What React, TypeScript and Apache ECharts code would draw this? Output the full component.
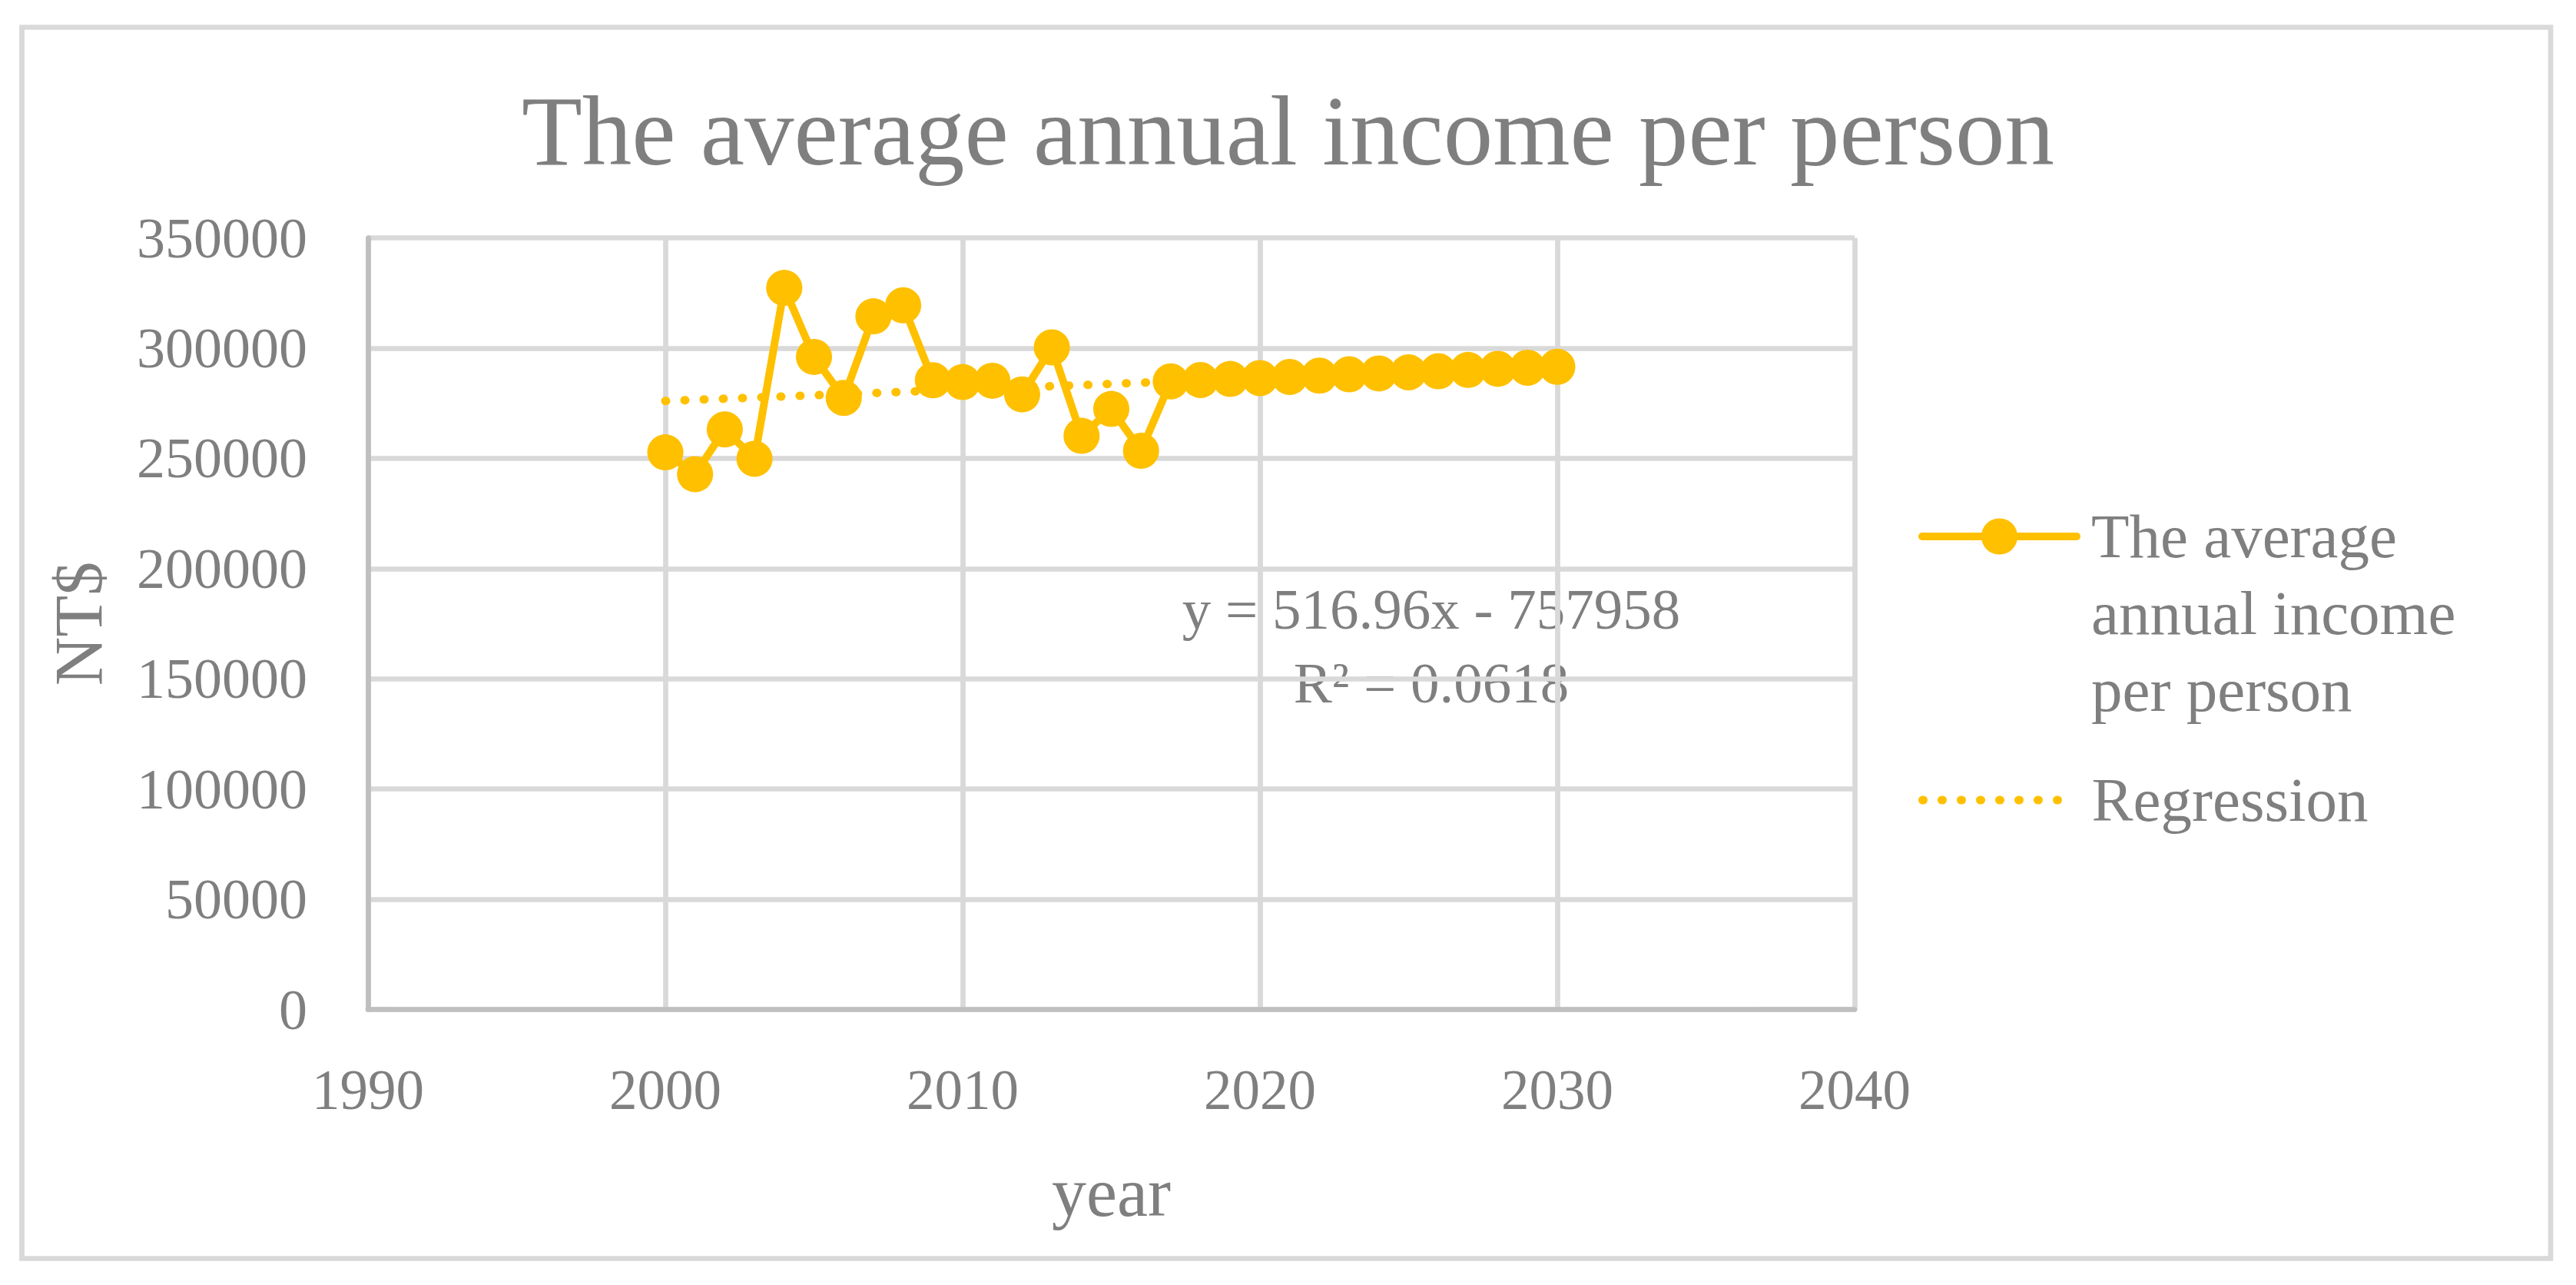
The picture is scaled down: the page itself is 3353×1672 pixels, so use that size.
import React, { useEffect, useRef } from "react";
import * as echarts from "echarts";

const TITLE = "The average annual income per person";
const SERIES_NAME = "The average annual income per person";
const LEGEND_MAIN_LINES = ["The average", "annual income", "per person"];
const REG_NAME = "Regression";
const X_NAME = "year";
const Y_NAME = "NT$";
const EQUATION = "y = 516.96x - 757958";
const R_SQUARED = "R² = 0.0618";

const years = [
  2000, 2001, 2002, 2003, 2004, 2005, 2006, 2007, 2008, 2009, 2010,
  2011, 2012, 2013, 2014, 2015, 2016, 2017, 2018, 2019, 2020, 2021,
  2022, 2023, 2024, 2025, 2026, 2027, 2028, 2029, 2030,
];
const income = [
  252700, 242800, 263100, 249800, 327300, 296000, 277400, 314400, 319400, 285400, 284600,
  285200, 279000, 300300, 260200, 272400, 253400, 284900, 285500, 286000, 286400, 286900,
  287500, 288100, 288500, 289000, 289500, 290100, 290600, 291100, 291500,
];
const regressionYears = [2000, 2030];
const regressionValues = [276000, 291500];

const xTicks = { min: 1990, max: 2040, interval: 10 };
const yTicks = { min: 0, max: 350000, interval: 50000 };

const YELLOW = "#FFC000";
const TEXT = "#7F7F7F";
const GRID = "#D9D9D9";
const AXIS = "#BFBFBF";
const FONT = "'Liberation Serif', 'Times New Roman', serif";

export default function App() {
  const ref = useRef<HTMLDivElement>(null);
  useEffect(() => {
    if (!ref.current) return;
    const chart = echarts.init(ref.current, undefined, { renderer: "svg" });
    const mainData = years.map((y, i) => [y, income[i]]);
    const regData = regressionYears.map((y, i) => [y, regressionValues[i]]);
    // two leading empty lines keep the first text line level with the legend icon
    const legendMainText = ["", ""].concat(LEGEND_MAIN_LINES).join("\n");
    chart.setOption({
      animation: false,
      backgroundColor: "#ffffff",
      title: {
        text: TITLE,
        left: "center",
        top: 106,
        padding: 0,
        textStyle: { fontFamily: FONT, fontSize: 129, fontWeight: "normal", color: TEXT },
      },
      grid: { left: 479, right: 939, top: 309.5, bottom: 358.5, containLabel: false },
      xAxis: {
        type: "value",
        min: xTicks.min,
        max: xTicks.max,
        interval: xTicks.interval,
        name: X_NAME,
        nameLocation: "middle",
        nameGap: 193,
        nameTextStyle: { fontFamily: FONT, fontSize: 90, color: TEXT },
        axisLine: { show: true, lineStyle: { color: AXIS, width: 6.7 } },
        axisTick: { show: false },
        axisLabel: { margin: 68, fontFamily: FONT, fontSize: 73, color: TEXT, formatter: (v: number) => String(v) },
        splitLine: { show: true, lineStyle: { color: GRID, width: 6.7 } },
      },
      yAxis: {
        type: "value",
        min: yTicks.min,
        max: yTicks.max,
        interval: yTicks.interval,
        name: Y_NAME,
        nameLocation: "middle",
        nameGap: 333,
        nameTextStyle: { fontFamily: FONT, fontSize: 88, color: TEXT },
        axisLine: { show: true, lineStyle: { color: AXIS, width: 6.7 } },
        axisTick: { show: false },
        axisLabel: { margin: 79, fontFamily: FONT, fontSize: 74, color: TEXT, formatter: (v: number) => String(v) },
        splitLine: { show: true, lineStyle: { color: GRID, width: 6.7 } },
      },
      legend: [
        {
          data: [SERIES_NAME],
          left: 2497,
          top: 448,
          padding: 0,
          orient: "vertical",
          selectedMode: false,
          itemWidth: 201,
          itemHeight: 59,
          formatter: () => legendMainText,
          lineStyle: { width: 10, color: YELLOW, type: "solid", cap: "round" },
          itemStyle: { color: YELLOW, borderWidth: 0 },
          textStyle: {
            fontFamily: FONT,
            fontSize: 81,
            color: TEXT,
            lineHeight: 100,
            padding: [0, 0, 0, 14],
          },
        },
        {
          data: [REG_NAME],
          left: 2497,
          top: 991,
          padding: 0,
          orient: "vertical",
          selectedMode: false,
          itemWidth: 199,
          itemHeight: 59,
          lineStyle: { width: 11, color: YELLOW, type: [1, 24], cap: "round" },
          itemStyle: { color: "rgba(0,0,0,0)", borderWidth: 0 },
          textStyle: {
            fontFamily: FONT,
            fontSize: 81,
            color: TEXT,
            lineHeight: 100,
            padding: [0, 0, 0, 16],
          },
        },
      ],
      graphic: [
        {
          type: "rect",
          silent: true,
          z: -10,
          shape: { x: 28.5, y: 35.5, width: 3291.5, height: 1602 },
          style: { fill: "none", stroke: GRID, lineWidth: 6.7 },
        },
        {
          type: "text",
          silent: true,
          x: 1863,
          y: 840,
          style: {
            text: EQUATION + "\n" + R_SQUARED,
            fontFamily: FONT,
            fontSize: 75,
            lineHeight: 96,
            fill: TEXT,
            align: "center",
            verticalAlign: "middle",
          },
        },
      ],
      series: [
        {
          name: REG_NAME,
          type: "line",
          data: regData,
          symbol: "none",
          z: 3,
          itemStyle: { color: "rgba(0,0,0,0)" },
          lineStyle: { color: YELLOW, width: 11, type: [1, 24], cap: "round" },
        },
        {
          name: SERIES_NAME,
          type: "line",
          data: mainData,
          symbol: "circle",
          symbolSize: 47,
          z: 2,
          itemStyle: { color: YELLOW },
          lineStyle: { color: YELLOW, width: 10 },
        },
      ],
    });
    return () => chart.dispose();
  }, []);
  return (
    <div
      ref={ref}
      style={{ position: "absolute", left: 0, top: 0, width: 3353, height: 1672 }}
    />
  );
}
